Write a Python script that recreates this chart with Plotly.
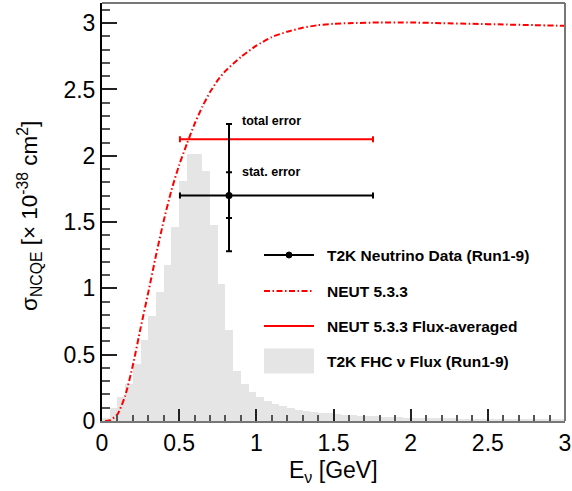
import numpy as np
import plotly.graph_objects as go

# T2K FHC flux histogram (arbitrary units, scaled to the y axis), 0.05 GeV bins from 0 to 3 GeV
bin_width = 0.05
flux = [0.025, 0.10, 0.18, 0.28, 0.43, 0.61, 0.79, 0.97, 1.18, 1.46,
        1.81, 2.01, 2.01, 1.885, 1.48, 1.03, 0.685, 0.38, 0.28, 0.215,
        0.18, 0.15, 0.13, 0.11, 0.095, 0.085, 0.076, 0.07, 0.064, 0.058,
        0.053, 0.049, 0.045, 0.041, 0.038, 0.035, 0.032, 0.03, 0.028, 0.026,
        0.024, 0.023, 0.022, 0.021, 0.02, 0.019, 0.018, 0.017, 0.016, 0.016,
        0.015, 0.015, 0.014, 0.014, 0.013, 0.013, 0.012, 0.012, 0.011, 0.011]
flux_E = np.arange(len(flux)) * bin_width + bin_width / 2

# NEUT 5.3.3 NCQE cross section vs neutrino energy
neut_E = [0.02, 0.05, 0.1, 0.15, 0.2, 0.25, 0.3, 0.35, 0.4, 0.45, 0.5, 0.55, 0.6,
          0.65, 0.7, 0.75, 0.8, 0.9, 1.0, 1.1, 1.2, 1.3, 1.4, 1.5, 1.6, 1.8,
          2.0, 2.2, 2.4, 2.6, 2.8, 3.0]
neut_xsec = [0.0, 0.005, 0.05, 0.19, 0.42, 0.70, 0.97, 1.25, 1.51, 1.74, 1.93, 2.09, 2.24,
             2.37, 2.48, 2.57, 2.64, 2.745, 2.83, 2.895, 2.935, 2.965, 2.985, 2.995, 3.0, 3.005,
             3.005, 3.0, 2.995, 2.99, 2.985, 2.98]

# T2K data point (flux-averaged) and NEUT flux-averaged prediction
data_E = [0.823]
data_E_lo = [0.505]
data_E_hi = [1.756]
data_xsec = [1.70]
stat_up = [0.175]
stat_down = [0.17]
total_up = [0.54]
total_down = [0.42]
neut_avg = [2.125]

W, H = 572, 491
L, R, T, B = 102, 565, 3, 421
FONT = "Liberation Sans, Arial, Helvetica, sans-serif"


def px(x, y):
    # pixel position -> paper coordinates
    return (x - L) / (R - L), (B - y) / (B - T)


ex_minus = [c - lo for c, lo in zip(data_E, data_E_lo)]
ex_plus = [hi - c for c, hi in zip(data_E, data_E_hi)]

fig = go.Figure()

fig.add_trace(go.Bar(
    x=flux_E, y=flux, width=bin_width,
    marker=dict(color="#e5e5e5", line=dict(width=0)),
    showlegend=False,
))

fig.add_trace(go.Scatter(
    x=neut_E, y=neut_xsec, mode="lines",
    line=dict(color="#ff0000", width=2, dash="6px,2.5px,1.5px,2.5px", shape="spline", smoothing=0.6),
    showlegend=False,
))

fig.add_trace(go.Scatter(
    x=data_E, y=neut_avg, mode="markers",
    marker=dict(size=1, color="rgba(0,0,0,0)"),
    error_x=dict(type="data", symmetric=False, array=ex_plus, arrayminus=ex_minus,
                 color="#ff0000", thickness=2, width=3),
    showlegend=False,
))

# stat error ticks
fig.add_trace(go.Scatter(
    x=data_E, y=data_xsec, mode="markers",
    marker=dict(size=1, color="rgba(0,0,0,0)"),
    error_y=dict(type="data", symmetric=False, array=stat_up, arrayminus=stat_down,
                 color="black", thickness=2, width=3),
    showlegend=False,
))

fig.add_trace(go.Scatter(
    x=data_E, y=data_xsec, mode="markers",
    marker=dict(size=7, color="black"),
    error_x=dict(type="data", symmetric=False, array=ex_plus, arrayminus=ex_minus,
                 color="black", thickness=2, width=3),
    error_y=dict(type="data", symmetric=False, array=total_up, arrayminus=total_down,
                 color="black", thickness=2, width=3),
    showlegend=False,
))

annotations = [
    dict(x=data_E[0] + 0.07, y=data_xsec[0] + total_up[0] + 0.02, xref="x", yref="y",
         text="<b>total error</b>", showarrow=False, xanchor="left", yanchor="middle",
         font=dict(family=FONT, size=12.5, color="black")),
    dict(x=data_E[0] + 0.07, y=data_xsec[0] + stat_up[0], xref="x", yref="y",
         text="<b>stat. error</b>", showarrow=False, xanchor="left", yanchor="middle",
         font=dict(family=FONT, size=12.5, color="black")),
]

# hand-made legend, ROOT style
shapes = []
leg_labels = ["T2K Neutrino Data (Run1-9)", "NEUT 5.3.3",
              "NEUT 5.3.3 Flux-averaged", "T2K FHC \u03bd Flux (Run1-9)"]
leg_y = [255, 291, 326, 361]
x0, y0 = px(264, leg_y[0])
x1, _ = px(314, leg_y[0])
shapes.append(dict(type="line", xref="paper", yref="paper", x0=x0, x1=x1, y0=y0, y1=y0,
                   line=dict(color="black", width=2)))
cx0, cy0 = px(286, leg_y[0] + 3)
cx1, cy1 = px(292, leg_y[0] - 3)
shapes.append(dict(type="circle", xref="paper", yref="paper", x0=cx0, x1=cx1, y0=cy0, y1=cy1,
                   fillcolor="black", line=dict(color="black", width=1)))
_, y0 = px(0, leg_y[1])
shapes.append(dict(type="line", xref="paper", yref="paper", x0=x0, x1=x1, y0=y0, y1=y0,
                   line=dict(color="#ff0000", width=2, dash="6px,2.5px,1.5px,2.5px")))
_, y0 = px(0, leg_y[2])
shapes.append(dict(type="line", xref="paper", yref="paper", x0=x0, x1=x1, y0=y0, y1=y0,
                   line=dict(color="#ff0000", width=2)))
_, ya = px(0, leg_y[3] + 12.5)
_, yb = px(0, leg_y[3] - 12.5)
shapes.append(dict(type="rect", xref="paper", yref="paper", x0=x0, x1=x1, y0=ya, y1=yb,
                   fillcolor="#e5e5e5", line=dict(width=0)))
for lab, ly in zip(leg_labels, leg_y):
    tx, ty = px(325, ly)
    annotations.append(dict(x=tx, y=ty, xref="paper", yref="paper", text="<b>%s</b>" % lab,
                            showarrow=False, xanchor="left", yanchor="middle",
                            font=dict(family=FONT, size=15.5, color="black")))

# gray frame on top and right
shapes.append(dict(type="line", xref="paper", yref="paper", x0=0, x1=1, y0=1, y1=1,
                   line=dict(color="#777777", width=2)))
shapes.append(dict(type="line", xref="paper", yref="paper", x0=1, x1=1, y0=0, y1=1,
                   line=dict(color="#777777", width=2)))

# axis titles
tx, ty = px(333, 471)
annotations.append(dict(x=tx, y=ty, xref="paper", yref="paper",
                        text="E<sub>\u03bd</sub> [GeV]", showarrow=False,
                        xanchor="center", yanchor="middle",
                        font=dict(family=FONT, size=23, color="black")))
tx, ty = px(29, 216)
annotations.append(dict(x=tx, y=ty, xref="paper", yref="paper", textangle=-90,
                        text="\u03c3<sub>NCQE</sub> [\u00d7 10<sup>-38</sup> cm<sup>2</sup>]",
                        showarrow=False, xanchor="center", yanchor="middle",
                        font=dict(family=FONT, size=22.5, color="black")))

fig.update_layout(
    width=W, height=H,
    margin=dict(l=L, r=W - R, t=T, b=H - B, autoexpand=False),
    paper_bgcolor="white", plot_bgcolor="white",
    bargap=0, showlegend=False,
    shapes=shapes, annotations=annotations,
    font=dict(family=FONT, size=23, color="black"),
)
fig.update_xaxes(
    range=[0, 3], dtick=0.5, tick0=0, ticks="inside", ticklen=12, tickwidth=2,
    tickcolor="#222222", showgrid=False, zeroline=False, automargin=False,
    showline=True, linecolor="#777777", linewidth=2,
    tickfont=dict(family=FONT, size=23, color="black"),
    minor=dict(dtick=0.1, ticks="inside", ticklen=6, tickwidth=2, tickcolor="#555555", showgrid=False),
)
fig.update_yaxes(
    range=[0, 3.152], dtick=0.5, tick0=0, ticks="inside", ticklen=15, tickwidth=2,
    tickcolor="#222222", showgrid=False, zeroline=False, automargin=False,
    showline=True, linecolor="black", linewidth=2,
    tickfont=dict(family=FONT, size=23, color="black"),
    minor=dict(dtick=0.1, ticks="inside", ticklen=8, tickwidth=2, tickcolor="#555555", showgrid=False),
)

# drop the default page margin so the figure fills the window
fig.write_html("out.html", config={"displayModeBar": False},
               post_script="document.body.style.margin='0';")
